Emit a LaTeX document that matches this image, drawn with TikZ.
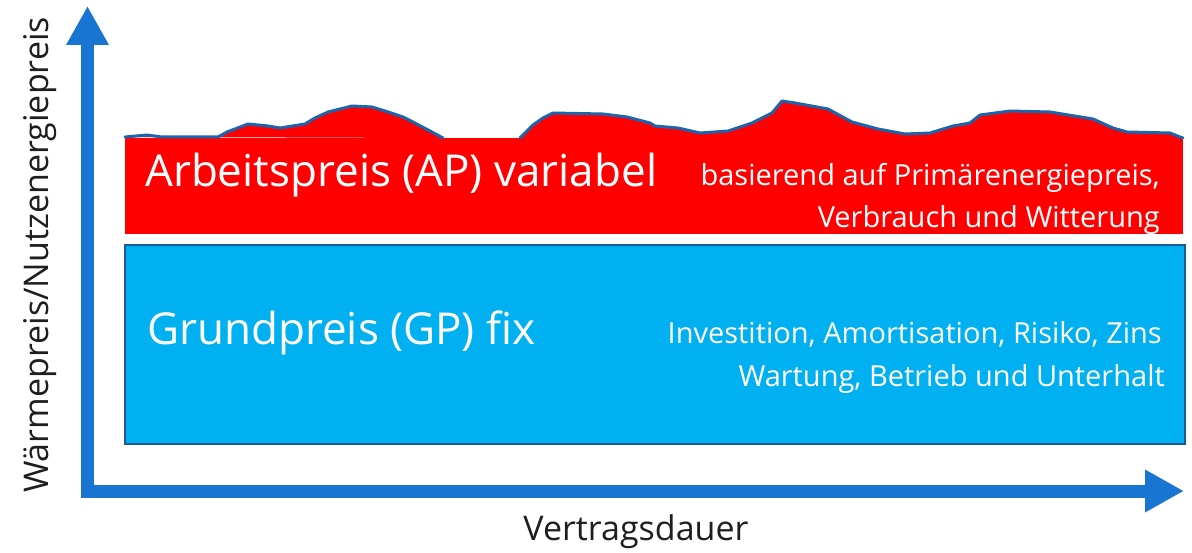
\documentclass[tikz,border=0pt]{standalone}
\usepackage{fontspec}
\setmainfont{Open Sans}
\usetikzlibrary{arrows.meta}

\definecolor{axisblue}{RGB}{24,118,210}
\definecolor{gpblue}{RGB}{0,176,240}
\definecolor{gpedge}{RGB}{30,90,150}
\definecolor{apred}{RGB}{255,0,0}
\definecolor{waveedge}{RGB}{30,100,170}
\definecolor{labelgray}{RGB}{30,30,30}

\begin{document}
\begin{tikzpicture}[x=1pt, y=-1pt,
    axis/.style={axisblue, line width=13pt,
      {Triangle[length=39pt, width=40pt]}-{Triangle[length=39pt, width=40pt]}},
    wavetop/.style={draw=waveedge, fill=apred, line width=3pt, line join=round, line cap=round},
    bigtext/.style={text=white, font=\fontsize{44}{53}\selectfont, anchor=base west, inner sep=0pt},
    smalltext/.style={text=white, font=\fontsize{29}{40}\selectfont, anchor=base east, inner sep=0pt},
    axislabel/.style={text=labelgray, font=\fontsize{34}{40}\selectfont, inner sep=0pt}]
    \useasboundingbox (0,0) rectangle (1192,553);

    % Axes
    \coordinate (ytip) at (87.5, 6);
    \coordinate (origin) at (87.5, 491);
    \coordinate (xtip) at (1184, 491);
    \draw[axis] (ytip) -- (origin) -- (xtip);

    \node[axislabel, rotate=90] at (40, 255) (ylabel) {Wärmepreis/Nutzenergiepreis};
    \node[axislabel] at (636, 532) (xlabel) {Vertragsdauer};

    % Grundpreis
    \draw[gpedge, fill=gpblue, line width=2pt] (125, 245) rectangle (1185, 444);

    % Arbeitspreis with wavy top
    \fill[apred] (125, 138) rectangle (1183, 234);
    \draw[wavetop] (125, 137) -- (147, 135) -- (162, 137) -- (218, 137) -- (227, 132) -- (248, 124)
        -- (268, 126) -- (280, 128) -- (305, 124) -- (315, 118) -- (328, 112) -- (352, 106)
        -- (372, 107) -- (385, 111) -- (403, 117) -- (413, 122) -- (430, 131) -- (443, 138);
    \draw[wavetop] (520, 138) -- (533, 125) -- (543, 118) -- (553, 113) -- (603, 114) -- (627, 117)
        -- (650, 123) -- (655, 126) -- (678, 128) -- (700, 133) -- (728, 131) -- (752, 123)
        -- (772, 113) -- (782, 101) -- (795, 103) -- (828, 109) -- (852, 122) -- (878, 129)
        -- (905, 134) -- (930, 133) -- (953, 126) -- (970, 123) -- (980, 115) -- (1010, 111)
        -- (1050, 112) -- (1093, 119) -- (1113, 128) -- (1127, 132) -- (1170, 133) -- (1180, 137)
        -- (1183, 138);

    % Texts
    \node[bigtext] at (145, 187) (aptitle) {Arbeitspreis (AP) variabel};
    \node[smalltext] at (1160, 186) (apinfoa) {basierend auf Primärenergiepreis,};
    \node[smalltext] at (1160, 228) (apinfob) {Verbrauch und Witterung};

    \node[bigtext] at (147, 345) (gptitle) {Grundpreis (GP) fix};
    \node[smalltext] at (1162, 344) (gpinfoa) {Investition, Amortisation, Risiko, Zins};
    \node[smalltext] at (1165, 387) (gpinfob) {Wartung, Betrieb und Unterhalt};

\end{tikzpicture}
\end{document}
